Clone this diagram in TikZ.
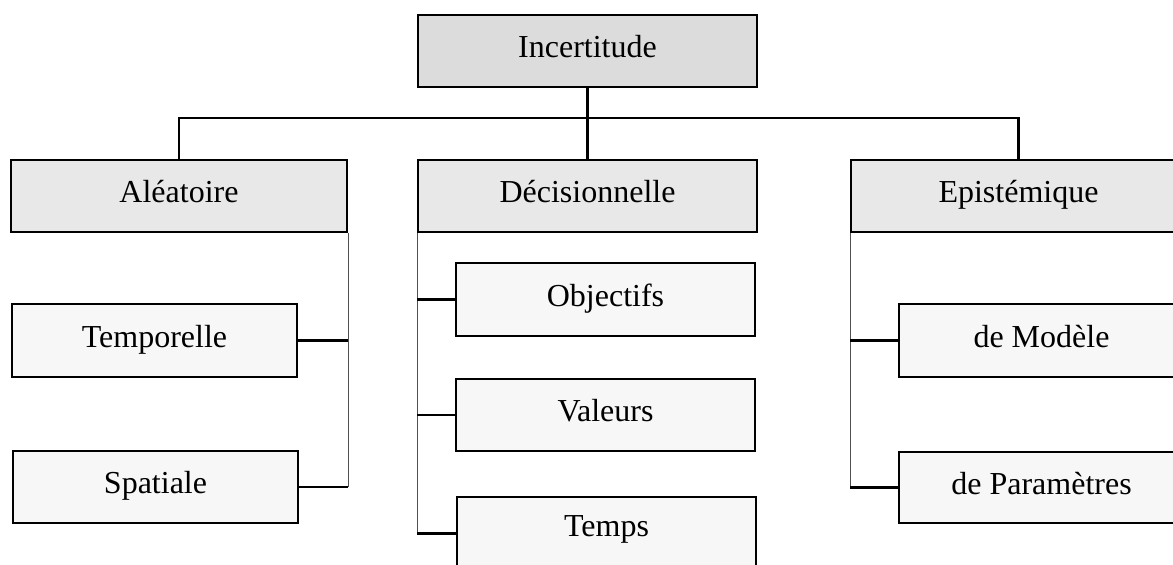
\documentclass[tikz,border=0pt]{standalone}
\usepackage{fontspec}
\setmainfont{Liberation Serif}
\definecolor{topfill}{HTML}{DCDCDC}
\definecolor{midfill}{HTML}{E8E8E8}
\definecolor{leaffill}{HTML}{F7F7F7}
\definecolor{thinline}{HTML}{505050}
\begin{document}
\begin{tikzpicture}[x=0.5pt,y=-0.5pt,
  box/.style={draw=black, line width=1pt, rectangle, inner sep=0pt,
    font=\fontsize{16pt}{19pt}\selectfont, text height=0.76em, text depth=0.1em},
  topbox/.style={box, fill=topfill},
  midbox/.style={box, fill=midfill},
  leafbox/.style={box, fill=leaffill},
  bus/.style={draw=black, line width=1.3pt},
  spine/.style={draw=thinline, line width=0.5pt},
  lbl/.style={font=\fontsize{16pt}{19pt}\selectfont}
]
\useasboundingbox (0,0) rectangle (1173,565);
\clip (0,0) rectangle (1173,565);

% nodes
\node[topbox, minimum width=169.5pt, minimum height=36pt] (inc) at (587.5,51) {Incertitude};
\node[midbox, minimum width=168pt, minimum height=36pt] (ale) at (179,196) {Aléatoire};
\node[midbox, minimum width=169.5pt, minimum height=36pt] (dec) at (587.5,196) {Décisionnelle};
\node[midbox, minimum width=167.5pt, minimum height=36pt] (epi) at (1018.5,196) {Epistémique};

\node[leafbox, minimum width=142.5pt, minimum height=36.5pt] (tem) at (154.5,340.5) {Temporelle};
\node[leafbox, minimum width=142.5pt, minimum height=36pt] (spa) at (155.5,487) {Spatiale};

\node[leafbox, minimum width=149.5pt, minimum height=36.5pt] (obj) at (605.5,299.5) {Objectifs};
\node[leafbox, minimum width=149.5pt, minimum height=36pt] (val) at (605.5,415) {Valeurs};
\node[leafbox, minimum width=149.5pt, minimum height=36.5pt] (tps) at (606.5,533.5) {};
\node[lbl, anchor=base] (tpst) at (606.5,537) {Temps};

\node[leafbox, minimum width=142.5pt, minimum height=36.5pt] (mod) at (1041.5,340.5) {de Modèle};
\node[leafbox, minimum width=142.5pt, minimum height=35.5pt] (par) at (1041.5,487.5) {de Paramètres};

% top bus
\coordinate (busR) at (1018.5,118);
\draw[bus] (inc.south) -- (dec.north);
\draw[bus] (ale.north) |- (busR) -- (epi.north);

% left branch
\draw[spine] (ale.south east) -- (ale.south east |- spa.east);
\draw[bus] (tem.east) -- (tem.east -| ale.south east);
\draw[bus] (spa.east) -- (spa.east -| ale.south east);

% middle branch
\draw[spine] (dec.south west) -- (dec.south west |- tps.west);
\draw[bus] (obj.west) -- (obj.west -| dec.south west);
\draw[bus] (val.west) -- (val.west -| dec.south west);
\draw[bus] (tps.west) -- (tps.west -| dec.south west);

% right branch
\draw[spine] (epi.south west) -- (epi.south west |- par.west);
\draw[bus] (mod.west) -- (mod.west -| epi.south west);
\draw[bus] (par.west) -- (par.west -| epi.south west);
\end{tikzpicture}
\end{document}
